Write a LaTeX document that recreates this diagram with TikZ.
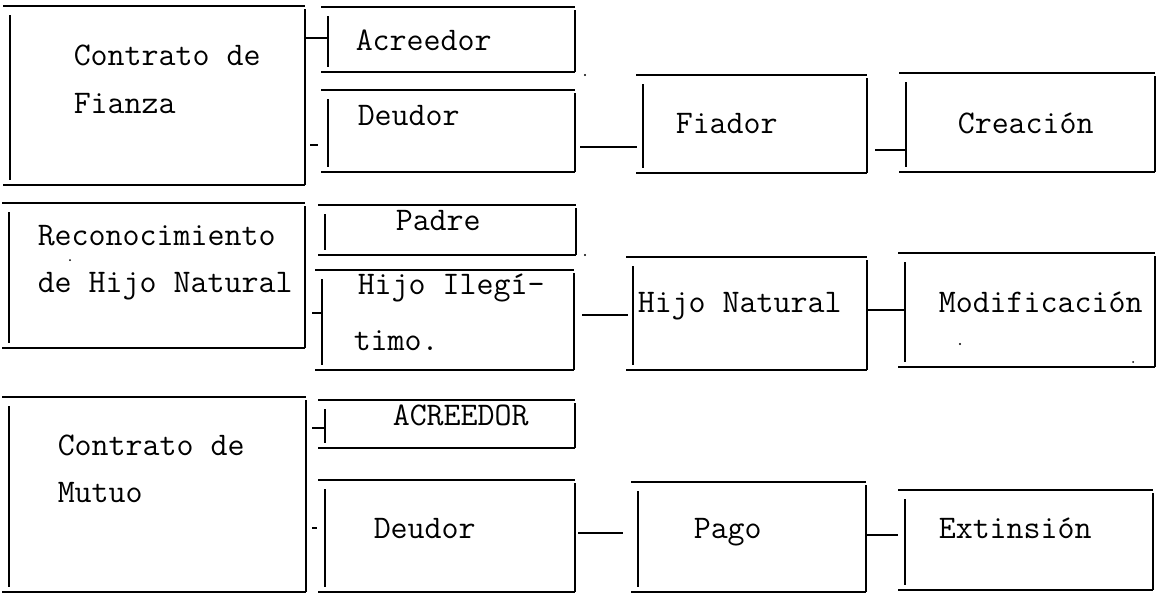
\documentclass[tikz,border=0pt]{standalone}
\usepackage{fontspec}
\newcommand\boxsides[1]{%
  \draw ([xshift=-7pt]#1.north west) -- (#1.north east);
  \draw ([xshift=-7pt]#1.south west) -- (#1.south east);
  \draw ([yshift=-9pt]#1.north west) -- ([yshift=5pt]#1.south west);
  \draw ([yshift=-3pt]#1.north east) -- (#1.south east);
}
\begin{document}
\begin{tikzpicture}[x=1pt,y=-1pt,line width=1.5pt,
  frame/.style={draw=none,rectangle,inner sep=0pt,outer sep=0pt,anchor=north west},
  txt/.style={anchor=base west,inner sep=0pt,font=\ttfamily\fontsize{33}{40}\selectfont}]
\useasboundingbox (0,0) rectangle (1159,595);
\fill[white] (0,0) rectangle (1159,595);

% boxes
\node[frame,minimum width=295pt,minimum height=179pt] (b1) at (10,6) {};
\node[frame,minimum width=247pt,minimum height=65pt]  (a1) at (328,7) {};
\node[frame,minimum width=247pt,minimum height=82pt]  (d1) at (328,90) {};
\node[frame,minimum width=224pt,minimum height=98pt]  (f1) at (643,75) {};
\node[frame,minimum width=249pt,minimum height=99pt]  (c1) at (906,73) {};

\node[frame,minimum width=296pt,minimum height=145pt] (b2) at (9,203) {};
\node[frame,minimum width=251pt,minimum height=50pt]  (p2) at (325,205) {};
\node[frame,minimum width=252pt,minimum height=100pt] (h2) at (322,270) {};
\node[frame,minimum width=234pt,minimum height=113pt] (n2) at (633,257) {};
\node[frame,minimum width=250pt,minimum height=114pt] (m2) at (905,253) {};

\node[frame,minimum width=297pt,minimum height=195pt] (b3) at (9,397) {};
\node[frame,minimum width=250pt,minimum height=48pt]  (a3) at (325,400) {};
\node[frame,minimum width=250pt,minimum height=112pt] (d3) at (325,480) {};
\node[frame,minimum width=228pt,minimum height=110pt] (g3) at (638,482) {};
\node[frame,minimum width=248pt,minimum height=100pt] (e3) at (905,490) {};

\boxsides{b1}\boxsides{a1}\boxsides{d1}\boxsides{f1}\boxsides{c1}
\boxsides{b2}\boxsides{p2}\boxsides{h2}\boxsides{n2}\boxsides{m2}
\boxsides{b3}\boxsides{a3}\boxsides{d3}\boxsides{g3}\boxsides{e3}

% texts
\node[txt] (t1a) at (73,65) {Contrato de};
\node[txt] (t1b) at (73,113) {Fianza};
\node[txt] (ta1) at (355,50) {Acreedor};
\node[txt] (td1) at (357,125) {Deudor};
\node[txt] (tf1) at (675,133) {Fiador};
\node[txt] (tc1) at (957,133) {Creación};

\node[txt] (t2a) at (37,245) {Reconocimiento};
\node[txt] (t2b) at (37,292) {de Hijo Natural};
\node[txt] (tp2) at (395,230) {Padre};
\node[txt] (th2a) at (357,294) {Hijo Ilegí-};
\node[txt] (th2b) at (353,350) {timo.};
\node[txt] (tn2) at (637,312) {Hijo Natural};
\node[txt] (tm2) at (938,312) {Modificación};

\node[txt] (t3a) at (57,455) {Contrato de};
\node[txt] (t3b) at (57,502) {Mutuo};
\node[txt] (ta3) at (392,425) {ACREEDOR};
\node[txt] (td3) at (373,538) {Deudor};
\node[txt] (tg3) at (693,538) {Pago};
\node[txt] (te3) at (938,538) {Extinsión};

% connectors
\draw (b1.east |- 0,38) -- (a1.west |- 0,38);
\draw[shorten <=5pt,shorten >=10pt] (b1.east |- 0,145) -- (d1.west |- 0,145);
\draw[shorten <=5pt,shorten >=6pt] (d1.east |- 0,147) -- (f1.west |- 0,147);
\draw[shorten <=8pt] (f1.east |- 0,150) -- (c1.west |- 0,150);

\draw[shorten <=7pt] (b2.east |- 0,313) -- (h2.west |- 0,313);
\draw[shorten <=8pt,shorten >=5pt] (h2.east |- 0,315) -- (n2.west |- 0,315);
\draw (n2.east |- 0,310) -- (m2.west |- 0,310);

\draw[shorten <=6pt] (b3.east |- 0,428) -- (a3.west |- 0,428);
\draw[shorten <=6pt,shorten >=8pt] (b3.east |- 0,528) -- (d3.west |- 0,528);
\draw[shorten <=3pt,shorten >=15pt] (d3.east |- 0,533) -- (g3.west |- 0,533);
\draw[shorten >=7pt] (g3.east |- 0,535) -- (e3.west |- 0,535);

% specks
\fill (585,75) circle (1.2pt);
\fill (585,255) circle (1.2pt);
\fill (70,260) circle (1pt);
\fill (960,344) circle (1.2pt);
\fill (1133,362) circle (1pt);
\end{tikzpicture}
\end{document}
